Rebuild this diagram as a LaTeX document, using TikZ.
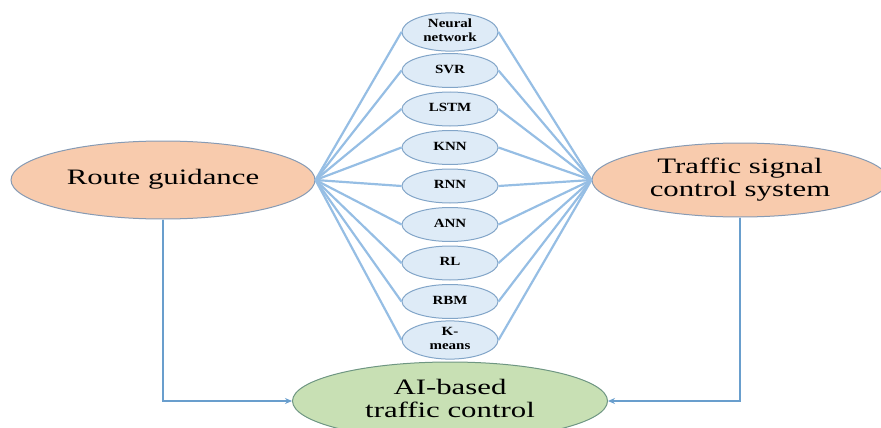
\documentclass[tikz,border=0pt]{standalone}
\usepackage{fontspec}
\setmainfont{Liberation Serif}
\usepackage{graphicx}
\usetikzlibrary{shapes.geometric,arrows.meta}
\definecolor{orangefill}{RGB}{248,203,173}
\definecolor{bluefill}{RGB}{222,235,247}
\definecolor{greenfill}{RGB}{200,224,180}
\definecolor{edgegray}{RGB}{135,155,180}
\definecolor{edgeblue}{RGB}{130,165,200}
\definecolor{edgegreen}{RGB}{110,150,130}
\definecolor{fanblue}{RGB}{150,190,228}
\definecolor{linkblue}{RGB}{105,158,205}
\newcommand{\widetxt}[2]{\scalebox{#1}[1]{\begin{tabular}{@{}c@{}}#2\end{tabular}}}
\begin{document}
\begin{tikzpicture}[x=1pt,y=-1pt,
  bigell/.style={ellipse, draw=edgegray, line width=1pt, inner sep=0pt,
    font=\fontsize{22}{23}\selectfont},
  smallell/.style={ellipse, draw=edgeblue, line width=1pt, fill=bluefill, inner sep=0pt,
    minimum width=96pt, minimum height=34pt,
    font=\fontsize{12.5}{13.5}\selectfont\bfseries},
  fanline/.style={draw=fanblue, line width=2.2pt},
  linkline/.style={draw=linkblue, line width=2.2pt, -{Stealth[length=7pt,width=6pt]}}
]
\useasboundingbox (0,0) rectangle (881,428);
\node[bigell, fill=orangefill, minimum width=304pt, minimum height=78pt] (RG) at (163,180)
  {\widetxt{1.4}{Route guidance}};
\node[bigell, fill=orangefill, minimum width=296pt, minimum height=74pt] (TS) at (740,180)
  {\widetxt{1.4}{Traffic signal\\control system}};
\node[bigell, draw=edgegreen, fill=greenfill, minimum width=315pt, minimum height=78pt] (AI) at (450,401)
  {\widetxt{1.4}{AI-based\\traffic control}};
\node[smallell] (m1) at (450,32) {\widetxt{1.2}{Neural\\network}};
\node[smallell] (m2) at (450,70.5) {\widetxt{1.2}{SVR}};
\node[smallell] (m3) at (450,109) {\widetxt{1.2}{LSTM}};
\node[smallell] (m4) at (450,147.5) {\widetxt{1.2}{KNN}};
\node[smallell] (m5) at (450,186) {\widetxt{1.2}{RNN}};
\node[smallell] (m6) at (450,224.5) {\widetxt{1.2}{ANN}};
\node[smallell] (m7) at (450,263) {\widetxt{1.2}{RL}};
\node[smallell] (m8) at (450,301.5) {\widetxt{1.2}{RBM}};
\node[smallell] (m9) at (450,340) {\widetxt{1.2}{K-\\means}};
\foreach \n in {m1,m2,m3,m4,m5,m6,m7,m8,m9}{
  \draw[fanline] (RG.east) -- (\n.west);
  \draw[fanline] (\n.east) -- (TS.west);
}
\draw[linkline] (RG.south) |- (AI.west);
\draw[linkline] (TS.south) |- (AI.east);
\end{tikzpicture}
\end{document}
